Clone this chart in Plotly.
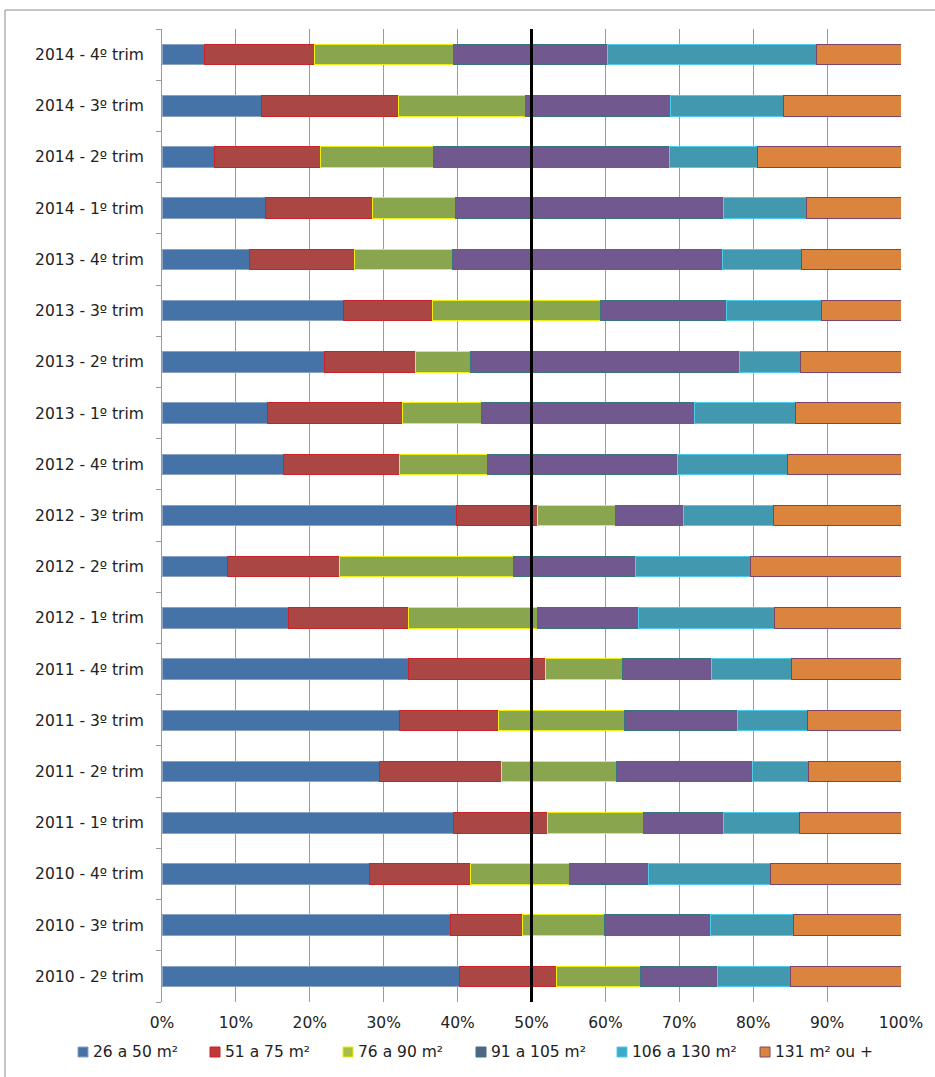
import plotly.graph_objects as go

# Quarters, bottom to top
quarters = [
    "2010 - 2º trim", "2010 - 3º trim", "2010 - 4º trim",
    "2011 - 1º trim", "2011 - 2º trim", "2011 - 3º trim", "2011 - 4º trim",
    "2012 - 1º trim", "2012 - 2º trim", "2012 - 3º trim", "2012 - 4º trim",
    "2013 - 1º trim", "2013 - 2º trim", "2013 - 3º trim", "2013 - 4º trim",
    "2014 - 1º trim", "2014 - 2º trim", "2014 - 3º trim", "2014 - 4º trim",
]

# Share of each size band per quarter (%)
area_26_50 = [40.3, 39.1, 28.1, 39.5, 29.4, 32.1, 33.4, 17.1, 8.9, 39.9,
              16.4, 14.3, 22.0, 24.5, 11.8, 14.0, 7.1, 13.4, 5.8]
area_51_75 = [13.1, 9.7, 13.6, 12.7, 16.6, 13.5, 18.5, 16.3, 15.1, 10.9,
              15.7, 18.3, 12.3, 12.1, 14.3, 14.5, 14.4, 18.6, 14.8]
area_76_90 = [11.3, 11.1, 13.4, 13.0, 15.5, 17.0, 10.4, 17.4, 23.5, 10.5,
              11.9, 10.6, 7.4, 22.8, 13.2, 11.2, 15.2, 17.2, 18.8]
area_91_105 = [10.5, 14.3, 10.7, 10.8, 18.4, 15.3, 12.0, 13.7, 16.6, 9.2,
               25.7, 28.9, 36.4, 17.0, 36.5, 36.3, 32.0, 19.6, 20.9]
area_106_130 = [9.8, 11.2, 16.5, 10.2, 7.6, 9.5, 10.9, 18.4, 15.5, 12.3,
                15.0, 13.6, 8.3, 12.9, 10.8, 11.2, 11.9, 15.3, 28.3]
area_131_plus = [15.0, 14.6, 17.7, 13.8, 12.5, 12.6, 14.8, 17.1, 20.4, 17.2,
                 15.3, 14.3, 13.6, 10.7, 13.4, 12.8, 19.4, 15.9, 11.4]

series_names = ["26 a 50 m²", "51 a 75 m²", "76 a 90 m²",
                "91 a 105 m²", "106 a 130 m²", "131 m² ou +"]
series_values = [area_26_50, area_51_75, area_76_90,
                 area_91_105, area_106_130, area_131_plus]
fill_colors = ["#4572A7", "#AA4643", "#89A54E", "#71588F", "#4198AF", "#DB843D"]
edge_colors = ["#8AA2C4", "#C8242A", "#EEEE10", "#3A7480", "#4CCDEB", "#7E4468"]
legend_colors = ["#4572A7", "#C0393A", "#A8C040", "#4F6784", "#40A8C8", "#DB843D"]

x_ticks = list(range(0, 101, 10))
x_tick_labels = [f"{v}%" for v in x_ticks]

FONT = "'DejaVu Sans', sans-serif"
FONT_SIZE = 15.5

W, H = 935, 1077
M_L, M_R, M_T, M_B = 162, 34, 29, 75
PLOT_W = W - M_L - M_R
PLOT_H = H - M_T - M_B


def px_to_paper(px, py):
    """Convert page pixel coordinates to paper coordinates."""
    return (px - M_L) / PLOT_W, (H - M_B - py) / PLOT_H


fig = go.Figure()

for name, vals, fc, ec in zip(series_names, series_values, fill_colors, edge_colors):
    fig.add_trace(go.Bar(
        y=quarters, x=vals, orientation="h", name=name,
        marker=dict(color=fc, line=dict(color=ec, width=1)),
        width=0.4, showlegend=False,
    ))

# 50% reference line
fig.add_shape(type="line", xref="x", yref="paper", x0=50, x1=50, y0=0, y1=1,
              line=dict(color="black", width=3), layer="above")

# Chart frame
fx0, fy1 = px_to_paper(5, 10)
fig.add_shape(type="rect", xref="paper", yref="paper",
              x0=fx0, x1=1.2, y0=-0.2, y1=fy1,
              line=dict(color="#8C8C8C", width=1), fillcolor="rgba(0,0,0,0)",
              layer="below")

# Legend row beneath the axis
legend_swatch_left = [78, 210, 343, 476, 617, 760]
legend_row_y = 1052
swatch = 10
for name, left, lc, ec in zip(series_names, legend_swatch_left, legend_colors, edge_colors):
    x0, y0 = px_to_paper(left, legend_row_y + swatch / 2)
    x1, y1 = px_to_paper(left + swatch, legend_row_y - swatch / 2)
    fig.add_shape(type="rect", xref="paper", yref="paper",
                  x0=x0, x1=x1, y0=y0, y1=y1,
                  fillcolor=lc, line=dict(color=ec, width=1))
    tx, ty = px_to_paper(left + swatch + 3, legend_row_y)
    fig.add_annotation(xref="paper", yref="paper", x=tx, y=ty,
                       xanchor="left", yanchor="middle", showarrow=False,
                       text=name, font=dict(size=FONT_SIZE))

fig.update_layout(
    width=W, height=H,
    margin=dict(l=M_L, r=M_R, t=M_T, b=M_B),
    barmode="stack",
    showlegend=False,
    plot_bgcolor="white", paper_bgcolor="white",
    font=dict(family=FONT, size=FONT_SIZE, color="#222222"),
    xaxis=dict(
        range=[0, 100], tickmode="array", tickvals=x_ticks, ticktext=x_tick_labels,
        showgrid=True, gridcolor="#9A9A9A", gridwidth=1,
        zeroline=False, showline=False, ticks="", tickfont=dict(size=FONT_SIZE),
        ticklabelstandoff=9,
    ),
    yaxis=dict(
        categoryorder="array", categoryarray=quarters,
        showline=True, linecolor="#9A9A9A", linewidth=1,
        ticks="outside", ticklen=5, tickcolor="#9A9A9A", tickson="boundaries",
        showgrid=False, tickfont=dict(size=FONT_SIZE), ticklabelstandoff=14,
    ),
    bargap=0.6,
)

fig.write_html("out.html")
